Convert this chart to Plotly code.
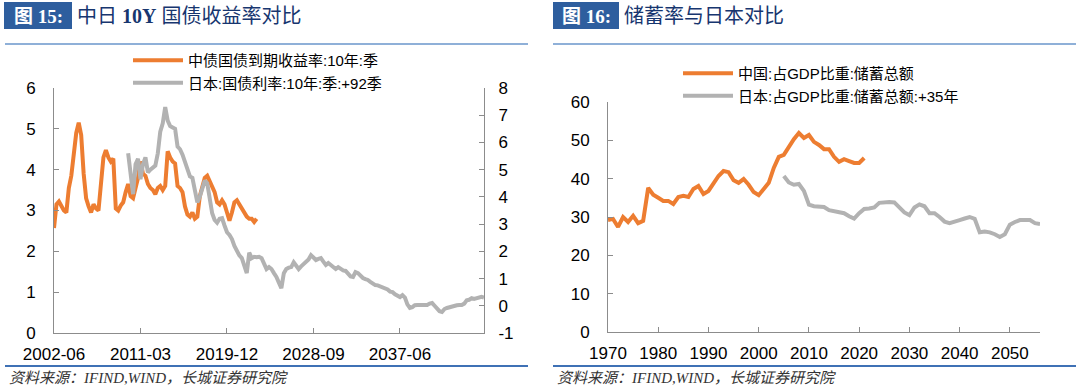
import plotly.graph_objects as go
import pandas as pd

W, H = 1080, 387

# ---------------- data: left panel (quarterly, %)
quarter_labels = [f"{p.year}-{p.quarter * 3:02d}" for p in pd.period_range("2002Q2", periods=175, freq="Q")]
x_tick_labels_left = ["2002-06", "2011-03", "2019-12", "2028-09", "2037-06"]
y2_ticks = [-1, 0, 1, 2, 3, 4, 5, 6, 7, 8]

china_10y = [
    2.57, 3.15, 3.22, 3.08, 3.0, 2.95, 3.55, 3.85, 4.3, 4.9,
    5.15, 4.85, 3.9, 3.3, 3.1, 2.95, 3.15, 3.05, 3.0, 3.6,
    4.3, 4.48, 4.3, 4.2, 4.27, 3.05, 3.0, 3.12, 3.2, 3.45,
    3.65, 3.35, 3.3, 3.55, 3.8, 4.2, 3.9, 3.85, 3.65, 3.55,
    3.5, 3.4, 3.55, 3.6, 3.5, 3.6, 4.45, 4.3, 4.2, 4.15,
    3.6, 3.55, 3.45, 3.1, 2.9, 2.85, 2.95, 2.8, 2.85, 3.35,
    3.6, 3.8, 3.85, 3.7, 3.55, 3.45, 3.2, 3.15, 3.25, 3.15,
    2.95, 2.75, 2.95, 3.2, 3.25, 3.15, 3.05, 2.92, 2.85, 2.8,
    2.8, 2.72, 2.8,
]
japan_10y_shift_start = 30  # first plotted quarter index (series shifted +92 quarters)
japan_10y = [
    5.6, 4.8, 4.1, 5.2, 5.4, 4.65, 5.2, 5.45, 4.9, 5.0,
    5.1, 5.15, 5.6, 6.4, 6.7, 7.3, 6.8, 6.6, 6.55, 6.5,
    5.85, 5.75, 5.55, 5.3, 4.95, 4.75, 4.7, 4.2, 3.8, 4.0,
    4.3, 4.6, 4.5, 3.9, 3.4, 3.15, 3.05, 3.2, 3.22, 2.95,
    2.7, 2.6, 2.45, 2.2, 1.98, 1.85, 1.75, 1.5, 1.2, 1.95,
    1.75, 1.8, 1.78, 1.8, 1.75, 1.55, 1.35, 1.42, 1.35, 1.2,
    1.06, 0.85, 0.65, 1.2, 1.35, 1.4, 1.42, 1.6, 1.45, 1.35,
    1.45, 1.55, 1.65, 1.7, 1.86, 1.75, 1.68, 1.72, 1.75, 1.62,
    1.5, 1.57, 1.5, 1.45, 1.35, 1.42, 1.35, 1.3, 1.28, 1.15,
    1.08, 1.06, 1.24, 1.2, 1.1, 1.02, 0.98, 0.95, 0.88, 0.8,
    0.76, 0.75, 0.72, 0.66, 0.65, 0.6, 0.52, 0.5, 0.42, 0.35,
    0.32, 0.39, 0.3, 0.05, -0.08, -0.05, 0.02, 0.03, 0.03, 0.02,
    0.03, 0.03, 0.08, 0.1, 0.0, -0.12, -0.2, -0.23, -0.12, -0.08,
    -0.05, -0.02, 0.0, 0.02, 0.03, 0.03, 0.08, 0.2, 0.22, 0.28,
    0.25, 0.28, 0.3, 0.33, 0.3,
]

# ---------------- data: right panel (annual, % of GDP)
china_years = list(range(1970, 2022))
china_saving = [
    29.2, 29.5, 27.4, 30.0, 28.7, 30.3, 28.4, 29.0, 37.6, 35.8,
    35.0, 34.2, 34.2, 33.4, 35.2, 35.5, 35.2, 37.3, 38.1, 36.0,
    36.8, 38.6, 40.7, 42.0, 41.7, 39.6, 38.9, 39.9, 38.4, 36.5,
    35.7, 37.3, 38.9, 42.8, 45.7, 46.2, 48.3, 50.3, 51.9, 50.6,
    51.4, 49.6, 48.8, 47.7, 47.7, 45.7, 44.4, 45.1, 44.6, 44.1,
    44.1, 45.4,
]
japan_shift_years = 35
japan_years = [y + japan_shift_years for y in range(1970, 2022)]
japan_saving = [
    40.7, 39.0, 38.4, 38.6, 36.8, 33.2, 32.8, 32.6, 32.6, 31.8,
    31.5, 31.3, 31.0, 30.2, 29.6, 31.0, 32.1, 32.2, 32.5, 33.7,
    33.9, 33.9, 33.8, 32.4, 31.2, 30.5, 32.5, 33.3, 32.8, 31.0,
    31.0, 30.0, 28.8, 28.4, 28.7, 29.2, 29.6, 30.0, 29.5, 26.0,
    26.2, 26.0, 25.5, 24.8, 25.5, 28.0, 28.7, 29.2, 29.2, 29.2,
    28.4, 28.2,
]
x_ticks_right = [1970, 1980, 1990, 2000, 2010, 2020, 2030, 2040, 2050]

ORANGE = "#ED7D31"
GRAY = "#B2B2B2"
AXIS = "#8C8C8C"
TITLE_BLUE = "#17366F"
BOX_BLUE = "#2E5E9E"
LINE_BLUE = "#3F71B5"


def px(x):
    return x / W


def py(y):
    return 1 - y / H


fig = go.Figure()

fig.add_trace(go.Scatter(
    x=quarter_labels[:len(china_10y)], y=china_10y, mode="lines",
    name="中债国债到期收益率:10年:季", line=dict(color=ORANGE, width=4),
    xaxis="x", yaxis="y", legend="legend"))
fig.add_trace(go.Scatter(
    x=quarter_labels[japan_10y_shift_start:japan_10y_shift_start + len(japan_10y)], y=japan_10y,
    mode="lines", name="日本:国债利率:10年:季:+92季", line=dict(color=GRAY, width=4),
    xaxis="x", yaxis="y2", legend="legend"))

fig.add_trace(go.Scatter(
    x=china_years, y=china_saving, mode="lines", name="中国:占GDP比重:储蓄总额",
    line=dict(color=ORANGE, width=4), xaxis="x2", yaxis="y3", legend="legend2"))
fig.add_trace(go.Scatter(
    x=japan_years, y=japan_saving, mode="lines", name="日本:占GDP比重:储蓄总额:+35年",
    line=dict(color=GRAY, width=4), xaxis="x2", yaxis="y3", legend="legend2"))

tickfont = dict(family="Liberation Sans, Arial, sans-serif", size=17, color="#000")
common = dict(showline=True, linecolor=AXIS, linewidth=1, ticks="inside", ticklen=5,
              tickcolor=AXIS, showgrid=False, zeroline=False, tickfont=tickfont,
              automargin=False)

left_dom_x = [px(54), px(484)]
left_dom_y = [py(333), py(88)]
right_dom_x = [px(608), px(1040)]
right_dom_y = [py(332), py(102)]

legend_font = dict(family="Liberation Sans, Noto Sans CJK SC, sans-serif", size=15, color="#000")

fig.update_layout(
    width=W, height=H, margin=dict(l=0, r=0, t=0, b=0, autoexpand=False),
    paper_bgcolor="white", plot_bgcolor="white",
    xaxis=dict(domain=left_dom_x, anchor="y", type="category",
               categoryorder="array", categoryarray=quarter_labels,
               range=[0, 174], tickvals=x_tick_labels_left, ticktext=x_tick_labels_left,
               ticklabelstandoff=6, **common),
    yaxis=dict(domain=left_dom_y, anchor="x", range=[0, 6], dtick=1,
               ticklabelstandoff=14, **common),
    yaxis2=dict(domain=left_dom_y, anchor="x", overlaying="y", side="right",
                range=[-1, 8], tickvals=y2_ticks, ticktext=[str(v) for v in y2_ticks],
                ticklabelstandoff=10, **common),
    xaxis2=dict(domain=right_dom_x, anchor="y3", range=[1970, 2056],
                tickvals=x_ticks_right, ticklabelstandoff=6, **common),
    yaxis3=dict(domain=right_dom_y, anchor="x2", range=[0, 60], dtick=10,
                ticklabelstandoff=14, **common),
    legend=dict(x=px(128), y=py(44), xanchor="left", yanchor="top",
                bgcolor="rgba(0,0,0,0)", itemwidth=50, tracegroupgap=0, font=legend_font),
    legend2=dict(x=px(678), y=py(57), xanchor="left", yanchor="top",
                 bgcolor="rgba(0,0,0,0)", itemwidth=50, tracegroupgap=0, font=legend_font),
    showlegend=True,
)

shapes = []
annotations = []
for (x0, x1, bx0, bx1, label, title) in [
    (5, 528, 4, 72, "图 15:", "中日 <b>10Y</b> 国债收益率对比"),
    (553, 1076, 553, 619, "图 16:", "储蓄率与日本对比"),
]:
    shapes.append(dict(type="rect", xref="paper", yref="paper",
                       x0=px(bx0), x1=px(bx1), y0=py(29), y1=py(2),
                       fillcolor=BOX_BLUE, line=dict(width=0)))
    shapes.append(dict(type="line", xref="paper", yref="paper",
                       x0=px(x0), x1=px(x1), y0=py(44), y1=py(44),
                       line=dict(color="#8FB0D8", width=2)))
    shapes.append(dict(type="line", xref="paper", yref="paper",
                       x0=px(x0), x1=px(x1), y0=py(366), y1=py(366),
                       line=dict(color=LINE_BLUE, width=2)))
    annotations.append(dict(x=px((bx0 + bx1) / 2), y=py(16), xref="paper", yref="paper",
                            text="<b>" + label + "</b>", showarrow=False,
                            xanchor="center", yanchor="middle",
                            font=dict(family="Liberation Serif, Noto Sans CJK SC", size=19, color="white")))
    annotations.append(dict(x=px(bx1 + 3), y=py(16), xref="paper", yref="paper",
                            text=title, showarrow=False, xanchor="left", yanchor="middle",
                            font=dict(family="Liberation Serif, Noto Sans CJK SC", size=20, color=TITLE_BLUE)))
    annotations.append(dict(x=px(x0 + 2), y=py(378), xref="paper", yref="paper",
                            text="<i>资料来源：IFIND,WIND，长城证券研究院</i>", showarrow=False,
                            xanchor="left", yanchor="middle",
                            font=dict(family="Liberation Serif, Noto Sans CJK SC", size=15, color="#333")))

fig.update_layout(shapes=shapes, annotations=annotations)

fig.write_html("out.html", config={"displayModeBar": False},
               post_script="document.body.style.margin='0px';document.body.style.overflow='hidden';")
